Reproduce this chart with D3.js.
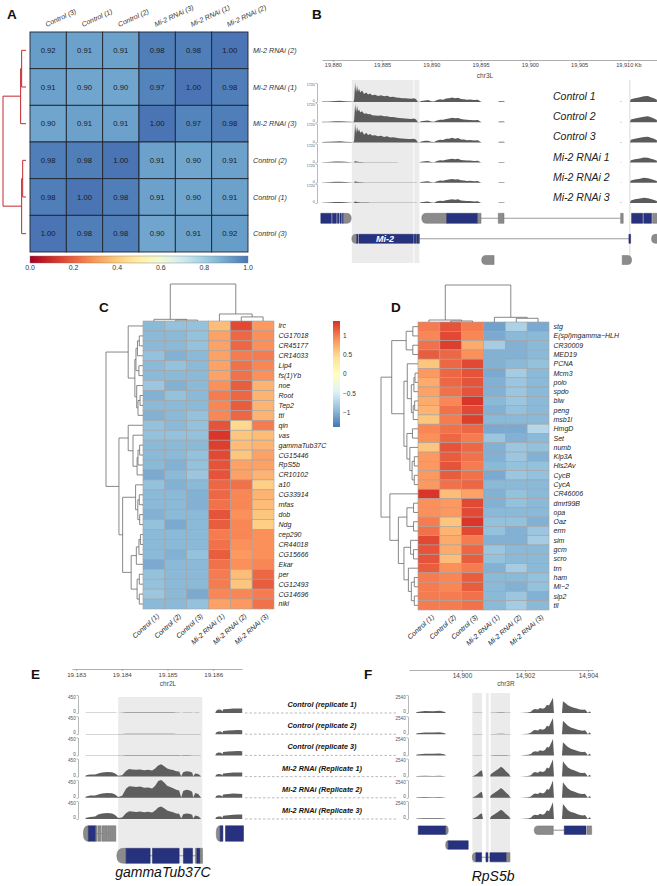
<!DOCTYPE html>
<html><head><meta charset="utf-8">
<script src="https://cdn.jsdelivr.net/npm/d3@7/dist/d3.min.js"></script>
<style>html,body{margin:0;padding:0;background:#fff}svg{display:block}</style>
</head><body>
<svg id="fig" width="657" height="886"></svg>
<script>
// ================= DATA =================
// ---- Panel A: sample correlation matrix ----
const A_cols = ["Control (3)","Control (1)","Control (2)","Mi-2 RNAi (3)","Mi-2 RNAi (1)","Mi-2 RNAi (2)"];
const A_rows = ["Mi-2 RNAi (2)","Mi-2 RNAi (1)","Mi-2 RNAi (3)","Control (2)","Control (1)","Control (3)"];
const A_values = [
  [0.92,0.91,0.91,0.98,0.98,1.00],
  [0.91,0.90,0.90,0.97,1.00,0.98],
  [0.90,0.91,0.91,1.00,0.97,0.98],
  [0.98,0.98,1.00,0.91,0.90,0.91],
  [0.98,1.00,0.98,0.91,0.90,0.91],
  [1.00,0.98,0.98,0.90,0.91,0.92]];
const A_tree = [0.09,[0.021,[0.017,0,1],2],[0.017,[0.013,3,4],5]];
const A_ticks = [0,0.2,0.4,0.6,0.8,1.0];

// ---- Panel B: Mi-2 locus coverage (chr3L, kb) ----
const B_ticks = [19880,19885,19890,19895,19900,19905,19910];
const B_tickLabels = ["19,880","19,885","19,890","19,895","19,900","19,905","19,910 Kb"];
const B_labels = ["Control 1","Control 2","Control 3","Mi-2 RNAi 1","Mi-2 RNAi 2","Mi-2 RNAi 3"];
const B_max = 1720;
const B_pos = [19878.91,19879.52,19880.23,19880.74,19881.25,19881.86,19882.06,19882.16,19882.26,19882.36,19882.46,19882.56,19882.67,19882.77,19882.97,19883.17,19883.38,19883.58,19883.78,19883.99,19884.29,19884.59,19884.90,19885.20,19885.51,19885.81,19886.11,19886.42,19886.72,19887.03,19887.33,19887.64,19887.94,19888.25,19888.45,19888.60,19888.75,19888.96,19889.36,19889.67,19889.97,19890.27,19890.58,19890.88,19891.19,19891.49,19891.79,19892.10,19892.40,19892.71,19893.01,19893.31,19893.62,19893.92,19894.33,19894.73,19894.99,19895.14,19896.76,19896.87,19897.37,19897.47,19909.14,19909.24,19909.34,19910.15,19910.25,19910.66,19911.16,19911.57,19911.98,19912.28,19912.59,19912.89];
const B_ctrl1 = [34,52,86,103,69,34,0,172,1720,860,1460,950,1200,860,1030,720,860,690,770,600,650,550,620,520,570,460,480,410,380,340,340,310,290,340,260,34,0,86,140,170,70,34,170,240,210,310,340,410,340,380,280,260,210,220,170,210,34,0,0,70,70,0,0,50,0,0,260,340,430,520,550,430,340,210];
const B_ctrl2 = [30,48,80,95,60,30,0,150,1650,900,1500,1000,1150,900,980,760,820,720,740,640,600,580,600,540,540,480,470,430,390,360,330,320,300,330,250,30,0,80,130,160,60,30,160,230,220,300,330,400,350,370,290,250,220,210,180,200,30,0,0,60,60,0,0,40,0,0,250,330,420,500,540,440,330,200];
const B_ctrl3 = [30,50,85,100,65,30,0,160,1700,820,1420,980,1180,880,1000,700,880,660,760,620,640,560,600,500,560,450,470,420,370,350,320,300,300,320,240,30,0,90,140,160,70,30,170,250,210,320,340,420,330,390,270,260,200,220,170,200,30,0,0,60,60,0,0,40,0,0,240,320,420,480,520,420,330,200];
const B_rnai1 = [30,55,90,100,70,30,0,40,140,110,90,70,60,50,45,40,40,35,35,30,30,30,30,25,25,25,25,25,20,20,20,20,20,20,20,10,0,70,120,140,55,30,150,210,180,260,300,350,300,340,240,220,180,190,140,170,30,0,0,55,55,0,0,40,0,0,210,300,380,470,430,350,270,170];
const B_rnai2 = [28,50,85,95,65,28,0,35,130,100,85,65,55,45,40,38,36,32,30,28,28,28,26,24,24,22,22,22,20,20,18,18,18,18,18,10,0,65,115,130,50,28,145,200,175,250,290,340,290,330,230,210,170,180,130,160,28,0,0,50,50,0,0,35,0,0,200,290,370,450,420,340,260,160];
const B_rnai3 = [30,52,88,98,66,30,0,38,135,105,88,68,58,48,42,40,38,34,32,30,30,28,28,25,25,24,24,22,20,20,20,18,18,18,18,10,0,68,118,135,52,30,148,205,178,255,295,345,295,335,235,215,175,185,135,165,30,0,0,52,52,0,0,38,0,0,230,330,400,480,440,360,280,180];
const B_highlights = [[19881.93,19888.17],[19888.27,19888.78]];
const B_marker = 19910.15;
// gene models: [row, kind, start, end, rounded side]
const B_genes = [
  [0,"cds",19878.78,19879.85],[0,"cds",19879.95,19880.36],[0,"cds",19880.46,19880.62],[0,"cds",19880.72,19880.86],[0,"cds",19880.96,19881.08],[0,"utr",19881.08,19881.86,"r"],
  [0,"line",19895.04,19909.21],
  [0,"utr",19889.03,19891.56,"l"],[0,"cds",19891.56,19894.71],[0,"utr",19894.71,19895.04],[0,"utr",19896.79,19897.37],[0,"utr",19909.21,19909.47],
  [0,"cds",19910.32,19911.45],[0,"cds",19911.55,19912.35],[0,"utr",19912.45,19912.89],
  [1,"line",19888.78,19910.15],
  [1,"utr",19881.93,19882.43,"l"],[1,"cds",19882.43,19882.55],[1,"cds",19882.65,19888.17],[1,"cds",19888.25,19888.43],[1,"cds",19888.50,19888.66],[1,"cds",19888.70,19888.78],
  [1,"cds",19910.05,19910.22],[1,"utr",19912.35,19912.89,"l"],
  [2,"utr",19895.11,19896.36,"l"],[2,"utr",19909.37,19910.32,"r"]];
const B_geneName = ["Mi-2", 19885.30];

// ---- Panels C / D: row-scaled expression ----
const CD_samples = ["Control (1)","Control (2)","Control (3)","Mi-2 RNAi (1)","Mi-2 RNAi (2)","Mi-2 RNAi (3)"];
const C_genes = ["lrc","CG17018","CR45177","CR14033","Lip4","fs(1)Yb","noe","Root","Tep2","ttl","qin","vas","gammaTub37C","CG15446","RpS5b","CR10102","a10","CG33914","mfas","dob","Ndg","cep290","CR44018","CG15666","Ekar","per","CG12493","CG14696","niki"];
const C_values = [
  [-0.95,-0.90,-0.90,0.65,1.25,0.85],[-0.95,-0.95,-0.90,0.80,1.10,0.90],[-0.95,-0.95,-0.90,0.80,1.10,0.90],
  [-0.90,-1.00,-0.95,0.80,1.00,1.00],[-0.95,-0.90,-0.95,0.80,1.05,0.95],[-0.95,-0.95,-0.95,0.80,1.05,0.90],
  [-0.85,-1.00,-0.95,0.90,1.15,0.70],[-1.00,-0.90,-0.95,1.00,1.10,0.70],[-0.95,-0.95,-0.95,0.95,1.15,0.70],
  [-1.00,-0.95,-0.90,0.95,1.10,0.70],[-0.90,-0.95,-0.90,1.20,0.50,1.00],[-0.90,-0.90,-0.90,1.35,0.60,0.65],
  [-0.95,-0.95,-0.95,1.30,0.65,0.70],[-0.95,-0.95,-0.90,1.25,0.60,0.80],[-0.95,-1.00,-0.90,1.20,0.80,0.80],
  [-1.05,-0.95,-0.85,1.20,0.80,0.70],[-0.90,-1.00,-0.95,1.10,1.05,0.55],[-0.95,-0.95,-1.00,1.10,0.95,0.70],
  [-0.95,-0.95,-1.00,1.05,0.95,0.65],[-1.00,-0.95,-0.95,1.20,0.90,0.60],[-0.90,-1.05,-0.95,1.15,0.95,0.55],
  [-0.95,-0.95,-0.95,1.00,0.95,0.90],[-0.95,-0.95,-0.95,1.05,0.90,0.90],[-0.95,-1.00,-0.90,1.15,0.85,0.90],
  [-1.05,-0.95,-0.95,1.05,0.90,0.95],[-0.90,-0.95,-0.95,1.00,0.65,1.10],[-0.90,-0.95,-0.95,1.00,0.60,1.15],
  [-0.85,-0.95,-1.05,0.95,0.95,1.00],[-0.95,-0.95,-0.90,0.80,0.85,1.05]];
const C_rowTree = [10,
  [4.0,0,[2.2,[1.9,[1.5,[1.0,1,2],3],[1.1,4,5]],[1.7,6,[1.35,[0.8,7,8],9]]]],
  [6.5,[4.0,10,[2.7,11,[1.6,[1.35,[0.9,12,13],14],15]]],
       [5.5,[2.0,16,[1.4,[1.0,17,18],[0.9,19,20]]],
            [3.2,[1.8,[1.1,[0.7,21,22],23],24],[1.6,[1.0,25,26],[1.0,27,28]]]]]];
const C_colTree = [10,[0.45,0,[0.25,1,2]],[1.9,3,[1.1,4,5]]];

const D_genes = ["stg","E(spl)mgamma\u2212HLH","CR30009","MED19","PCNA","Mcm3","polo","spdo","blw","peng","msb1l","HmgD","Set","numb","Klp3A","His2Av","CycB","CycA","CR46006","dmrt99B","opa","Oaz","erm","sim","gcm","scro","trn","ham","Mi\u22122","slp2","tll"];
const D_values = [
  [1.00,1.20,1.00,-1.10,-0.75,-1.05],[0.95,1.25,0.95,-1.05,-0.95,-0.95],[1.05,1.30,0.75,-0.80,-1.00,-0.95],
  [1.15,1.10,0.90,-1.00,-1.00,-0.95],[0.60,1.10,1.25,-1.00,-0.95,-0.90],[0.85,1.10,1.20,-1.05,-0.80,-0.95],
  [0.75,1.10,1.20,-1.00,-0.85,-0.95],[0.80,1.05,1.20,-1.00,-0.85,-0.95],[0.75,0.95,1.35,-0.95,-0.85,-0.95],
  [0.70,1.05,1.25,-1.00,-0.90,-0.95],[0.60,1.00,1.30,-0.95,-0.95,-0.95],[0.95,1.05,1.10,-1.05,-1.05,-0.70],
  [0.90,1.10,1.00,-0.85,-1.00,-0.95],[0.60,1.20,1.10,-1.00,-0.85,-0.90],[0.85,1.15,1.05,-1.00,-0.85,-1.00],
  [0.85,1.20,1.00,-0.95,-0.90,-0.90],[0.85,1.15,1.05,-1.05,-0.85,-0.90],[0.85,1.05,1.10,-0.95,-0.95,-0.95],
  [1.35,0.65,0.80,-1.00,-0.90,-0.95],[0.90,0.85,1.25,-1.00,-0.90,-0.95],[0.90,0.85,1.25,-0.95,-0.95,-0.95],
  [1.00,0.60,1.35,-0.90,-0.90,-1.00],[1.05,0.70,1.25,-0.90,-1.00,-0.85],[1.25,0.75,1.00,-1.00,-1.00,-0.80],
  [1.20,0.75,1.10,-0.85,-0.95,-0.95],[1.20,0.65,1.15,-0.90,-0.95,-0.95],[1.15,0.90,1.00,-1.00,-0.80,-0.95],
  [1.00,0.95,1.15,-0.95,-0.95,-0.90],[1.00,0.95,1.15,-0.95,-1.00,-0.90],[1.00,1.00,1.05,-0.95,-0.85,-1.00],
  [1.00,1.00,1.05,-0.95,-0.80,-0.95]];
const D_rowTree = [10,
  [7.1,[3.2,[1.4,0,1],[1.4,2,3]],
       [3.8,[2.9,4,[1.8,[1.1,[0.8,5,6],7],[1.3,[0.9,8,9],10]]],
            [3.0,[1.5,11,12],[2.2,13,[1.6,[1.0,14,15],[1.0,16,17]]]]]],
  [7.6,18,[5.3,[3.0,[1.2,19,20],[1.2,21,22]],
              [3.8,[2.0,23,[1.2,24,25]],[2.6,26,[1.8,[1.0,27,28],[1.0,29,30]]]]]]];
const D_colTree = [10,[0.54,0,[0.27,1,2]],[1.27,3,[1.0,4,5]]];
const HM_palette = ["#4575B4","#91BFDB","#E0F3F8","#FFFFBF","#FEE090","#FC8D59","#D73027"];
const HM_limit = 1.373;
const HM_ticks = [1,0.5,0,-0.5,-1];

// ---- Panels E / F: coverage tracks ----
const EF_labels = ["Control (replicate 1)","Control (replicate 2)","Control (replicate 3)","Mi-2 RNAi (Replicate 1)","Mi-2 RNAi (Replicate 2)","Mi-2 RNAi (Replicate 3)"];
const E_ticks = [19183,19184,19185,19186];
const E_max = 450;
const E_pos = [19183.197,19183.219,19183.307,19183.416,19183.482,19183.569,19183.679,19183.788,19183.854,19183.920,19184.007,19184.095,19184.161,19184.226,19184.314,19184.401,19184.489,19184.577,19184.664,19184.730,19184.796,19184.861,19184.927,19184.993,19185.058,19185.124,19185.190,19185.255,19185.299,19185.343,19185.409,19185.474,19185.540,19185.562,19185.606,19185.671,19185.715,19185.737,19186.044,19186.066,19186.109,19186.175,19186.197,19186.219,19186.328,19186.438,19186.547,19186.635];
const E_ctrl1 = [0,4,4,4,4,5,5,5,4,2,4,10,12,12,12,12,10,12,10,12,14,14,12,10,10,10,8,8,2,8,8,8,6,2,5,4,2,0,0,55,85,80,35,95,100,110,115,110];
const E_ctrl2 = [0,3,4,4,4,4,5,4,4,2,3,9,11,11,11,11,9,11,9,11,13,13,11,9,9,9,7,7,2,7,7,7,5,2,4,4,2,0,0,45,70,65,30,80,90,100,105,100];
const E_ctrl3 = [0,3,4,4,4,4,4,4,3,2,3,8,10,10,10,10,9,10,9,10,12,12,10,9,8,8,7,7,2,7,7,7,5,2,4,3,2,0,0,45,70,65,30,85,95,105,110,105];
const E_rnai1 = [0,35,55,55,80,100,115,110,80,20,35,145,190,180,170,180,160,170,150,200,280,310,260,200,180,165,135,125,10,110,135,125,100,10,80,65,25,0,0,45,65,60,25,75,90,100,105,100];
const E_rnai2 = [0,35,60,60,85,110,120,115,85,20,50,230,290,280,270,280,250,260,230,300,420,445,380,300,270,240,200,180,10,170,200,190,150,10,120,95,35,0,0,45,65,60,25,80,95,105,100,95];
const E_rnai3 = [0,30,50,60,110,140,150,140,100,25,40,150,195,185,175,190,170,180,160,210,290,315,270,210,185,170,140,130,10,120,140,130,105,10,85,70,25,0,0,45,65,60,25,80,95,105,115,110];
const E_highlights = [[19183.92,19185.76]];
const E_genes = [
  [0,"line",19183.16,19183.87],
  [0,"utr",19183.16,19183.269,"l"],[0,"cds",19183.269,19183.431],[0,"utr",19183.431,19183.453],[0,"utr",19183.475,19183.541],[0,"utr",19183.563,19183.680],[0,"utr",19183.690,19183.869],
  [0,"utr",19186.066,19186.153,"l"],[0,"cds",19186.153,19186.212],[0,"cds",19186.269,19186.663],
  [1,"line",19183.891,19185.766],
  [1,"utr",19183.891,19184.095,"l"],[1,"cds",19184.095,19184.620],[1,"cds",19184.671,19185.255],[1,"cds",19185.349,19185.547],[1,"utr",19185.612,19185.643],[1,"cds",19185.643,19185.715],[1,"utr",19185.715,19185.766]];
const E_geneName = ["gammaTub37C", 19184.90];

const F_ticks = [14900,14902,14904];
const F_max = 2540;
const F_pos = [14898.540,14898.571,14898.825,14899.079,14899.302,14899.460,14899.492,14900.317,14900.381,14900.476,14900.571,14900.635,14900.667,14900.889,14900.921,14901.048,14901.175,14901.238,14901.302,14901.397,14901.492,14901.524,14901.556,14901.841,14902.095,14902.190,14902.254,14902.317,14902.413,14902.476,14902.571,14902.635,14902.698,14902.762,14902.825,14902.889,14902.921,14903.175,14903.206,14903.270,14903.365,14903.460,14903.556,14903.651,14903.746,14903.841,14903.905,14903.968,14904.000,14904.032,14904.063,14904.095];
const F_ctrl1 = [0,150,280,260,300,150,0,0,20,30,30,30,0,0,30,50,60,70,60,50,30,20,0,0,70,180,450,580,500,700,600,740,1150,1050,1600,2160,0,0,1650,1450,1100,870,750,630,500,450,500,180,0,180,220,0];
const F_ctrl2 = [0,130,240,230,260,130,0,0,20,25,25,25,0,0,25,45,55,60,55,45,25,20,0,0,75,190,470,600,520,720,620,760,1200,1100,1680,2300,0,0,1900,1600,1200,950,820,680,540,490,540,190,0,190,230,0];
const F_ctrl3 = [0,130,240,230,260,130,0,0,20,25,25,25,0,0,25,45,55,60,55,45,25,20,0,0,75,190,470,600,520,720,620,760,1200,1100,1680,2300,0,0,1850,1580,1180,930,800,670,530,480,530,190,0,190,230,0];
const F_rnai1 = [0,80,110,90,110,60,0,0,130,380,760,900,0,0,380,760,1150,1400,1200,760,380,130,0,0,80,200,500,640,560,760,640,800,1270,1150,1780,2400,0,0,2160,1780,1270,1020,890,710,560,510,560,200,0,200,250,0];
const F_rnai2 = [0,70,100,85,100,55,0,0,120,360,720,850,0,0,360,740,1120,1380,1180,740,360,120,0,0,80,190,480,620,540,740,620,780,1240,1120,1750,2450,0,0,2200,1800,1300,1040,900,720,570,520,570,200,0,190,240,0];
const F_rnai3 = [0,75,105,90,105,55,0,0,110,330,680,820,0,0,340,700,1080,1320,1120,700,340,110,0,0,75,190,480,610,530,730,610,760,1220,1100,1700,2380,0,0,2100,1750,1250,1000,870,700,550,500,550,190,0,190,240,0];
const F_highlights = [[14900.33,14900.64],[14900.76,14900.85],[14900.91,14901.53]];
const F_genes = [
  [0,"cds",14898.613,14899.492],[0,"utr",14899.492,14899.565,"r"],
  [0,"line",14902.898,14903.248],
  [0,"utr",14902.295,14902.898,"l"],[0,"cds",14903.248,14903.937],[0,"utr",14903.968,14904.117],
  [1,"utr",14899.483,14899.565,"l"],[1,"cds",14899.565,14900.200],
  [2,"line",14900.330,14901.524],
  [2,"utr",14900.330,14900.444,"l"],[2,"cds",14900.444,14900.625],[2,"cds",14900.762,14900.825],[2,"cds",14900.889,14901.419],[2,"utr",14901.419,14901.524]];
const F_geneName = ["RpS5b", 14900.99];

// ================= DRAWING =================
const FONT = '"Liberation Sans", Arial, Helvetica, sans-serif';
const svg = d3.select("#fig").style("font-family", FONT);
svg.append("rect").attr("width",657).attr("height",886).attr("fill","#fff");
const defs = svg.append("defs");

function panelLabel(t,x,y){
  svg.append("text").attr("x",x).attr("y",y).attr("font-size",13.5).attr("font-weight","bold").attr("fill","#111").text(t);
}
function layoutTree(node, leafPos){
  if (typeof node === "number") return {pos: leafPos(node), h: 0, kids: null};
  const a = layoutTree(node[1], leafPos), b = layoutTree(node[2], leafPos);
  return {pos: (a.pos + b.pos) / 2, h: node[0], kids: [a, b]};
}
function drawTree(g, t, hs, horizontal, color, width){
  if (!t.kids) return;
  const a = t.kids[0], b = t.kids[1], H = hs(t.h);
  const d = horizontal
    ? `M${hs(a.h)},${a.pos}H${H}V${b.pos}H${hs(b.h)}`
    : `M${a.pos},${hs(a.h)}V${H}H${b.pos}V${hs(b.h)}`;
  g.append("path").attr("d", d).attr("fill","none").attr("stroke",color).attr("stroke-width",width);
  drawTree(g, a, hs, horizontal, color, width);
  drawTree(g, b, hs, horizontal, color, width);
}
function boxPath(x0,x1,yc,h,side){
  const y0=yc-h/2, y1=yc+h/2, r=Math.min(h*0.45,(x1-x0)*0.9);
  if (side==="l") return `M${x0+r},${y0}H${x1}V${y1}H${x0+r}Q${x0},${y1} ${x0},${yc}Q${x0},${y0} ${x0+r},${y0}Z`;
  if (side==="r") return `M${x0},${y0}H${x1-r}Q${x1},${y0} ${x1},${yc}Q${x1},${y1} ${x1-r},${y1}H${x0}Z`;
  return `M${x0},${y0}H${x1}V${y1}H${x0}Z`;
}
function drawGenes(g, x, genes, rowY, rowH){
  genes.filter(d=>d[1]==="line").forEach(d=>{
    g.append("line").attr("x1",x(d[2])).attr("x2",x(d[3])).attr("y1",rowY[d[0]]).attr("y2",rowY[d[0]])
      .attr("stroke","#9b9b9b").attr("stroke-width",1.1);
  });
  genes.filter(d=>d[1]!=="line").forEach(d=>{
    const cds = d[1]==="cds";
    g.append("path").attr("d", boxPath(x(d[2]),x(d[3]),rowY[d[0]],rowH[d[0]],d[4]))
      .attr("fill", cds ? "#27327f" : "#8b8b8b").attr("stroke", cds ? "#1c2562" : "#6f6f6f").attr("stroke-width",0.5);
  });
}
function drawTrack(g, x, pos, vals, base, h, ymax, fill){
  const y = d3.scaleLinear().domain([0,ymax]).range([base, base-h]);
  const area = d3.area().x((d,i)=>x(pos[i])).y0(base).y1(d=>y(d));
  g.append("path").datum(vals).attr("d",area).attr("fill",fill);
  return y;
}
function drawYAxis(g, y, ax, ymax, fs){
  const a = g.append("g").attr("transform",`translate(${ax},0)`)
    .call(d3.axisLeft(y).tickValues([0,ymax]).tickFormat(d3.format("d")).tickSize(1.5).tickSizeOuter(0).tickPadding(0.8));
  a.select(".domain").attr("stroke","#888").attr("stroke-width",0.6);
  a.selectAll(".tick line").attr("stroke","#888").attr("stroke-width",0.6);
  a.selectAll("text").attr("font-size",fs).attr("fill","#555").attr("font-family",FONT)
    .attr("dy", d => d === 0 ? "-0.08em" : "0.72em");
}
function styleAxis(a, fs){
  a.select(".domain").attr("stroke","#999").attr("stroke-width",0.8);
  a.selectAll(".tick line").attr("stroke","#999").attr("stroke-width",0.7);
  a.selectAll("text").attr("font-size",fs).attr("fill","#444").attr("font-family",FONT);
}

// ---------------- Panel A ----------------
panelLabel("A", 7, 18.5);
(function(){
  const g = svg.append("g");
  const X0=30, X1=248, Y0=32, Y1=252;
  const xs = d3.scaleBand().domain(d3.range(A_cols.length)).range([X0,X1]);
  const ys = d3.scaleBand().domain(d3.range(A_rows.length)).range([Y0,Y1]);
  const col = v => d3.interpolateRdYlBu(v*0.9);
  A_values.forEach((row,i)=>row.forEach((v,j)=>{
    g.append("rect").attr("x",xs(j)).attr("y",ys(i)).attr("width",xs.bandwidth()).attr("height",ys.bandwidth())
      .attr("fill",col(v)).attr("stroke","#1f2530").attr("stroke-width",0.9);
    g.append("text").attr("x",xs(j)+xs.bandwidth()/2).attr("y",ys(i)+ys.bandwidth()/2).attr("dy","0.35em")
      .attr("text-anchor","middle").attr("font-size",7.7).attr("fill","#1a1a1a").text(v.toFixed(2));
  }));
  A_cols.forEach((c,j)=>{
    const cx = xs(j)+xs.bandwidth()/2-1.5;
    g.append("text").attr("transform",`translate(${cx},27) rotate(-25)`).attr("font-size",7)
      .attr("font-style","italic").attr("fill","#333").text(c);
  });
  A_rows.forEach((r,i)=>{
    g.append("text").attr("x",X1+5).attr("y",ys(i)+ys.bandwidth()/2).attr("dy","0.35em").attr("font-size",7.2)
      .attr("font-style","italic").attr("fill","#333").text(r);
  });
  const t = layoutTree(A_tree, i=>ys(i)+ys.bandwidth()/2);
  drawTree(g, t, d3.scaleLinear().domain([0,0.09]).range([26,3]), true, "#c3282f", 1);
  // colour bar
  const grad = defs.append("linearGradient").attr("id","gA");
  d3.range(0,1.0001,0.05).forEach(s=>grad.append("stop").attr("offset",s).attr("stop-color",col(s)));
  const cb = d3.scaleLinear().domain([0,1]).range([X0,X1]);
  g.append("rect").attr("x",X0).attr("y",256).attr("width",X1-X0).attr("height",7).attr("fill","url(#gA)")
    .attr("stroke","#777").attr("stroke-width",0.4);
  A_ticks.forEach(v=>g.append("text").attr("x",cb(v)).attr("y",269.5).attr("text-anchor","middle")
    .attr("font-size",7).attr("fill","#333").text(v.toFixed(1)));
})();

// ---------------- Panel B ----------------
panelLabel("B", 312, 18.5);
(function(){
  const g = svg.append("g");
  const x = d3.scaleLinear().domain([19878.9,19912.9]).range([322,657]);
  const TOP=80, BOT=263;
  B_highlights.forEach(h=>g.append("rect").attr("x",x(h[0])).attr("y",TOP).attr("width",x(h[1])-x(h[0]))
    .attr("height",BOT-TOP).attr("fill","#ebebeb"));
  g.append("line").attr("x1",x(B_marker)).attr("x2",x(B_marker)).attr("y1",TOP).attr("y2",BOT)
    .attr("stroke","#dadada").attr("stroke-width",1);
  const ax = g.append("g").attr("transform","translate(0,60)")
    .call(d3.axisBottom(x).tickValues(B_ticks).tickFormat((d,i)=>B_tickLabels[i]).tickSize(2).tickSizeOuter(0).tickPadding(1.5));
  styleAxis(ax, 5.6);
  g.append("text").attr("x",485).attr("y",77.5).attr("text-anchor","middle").attr("font-size",6.5).attr("fill","#444").text("chr3L");
  const tracks = [B_ctrl1,B_ctrl2,B_ctrl3,B_rnai1,B_rnai2,B_rnai3];
  tracks.forEach((vals,i)=>{
    const base = 102 + i*20.2;
    const y = drawTrack(g, x, B_pos, vals, base, 19, B_max, "#5b5b5b");
    drawYAxis(g, y, 317, B_max, 3.6);
    g.append("text").attr("x",553).attr("y",base-2).attr("font-size",10.5).attr("font-style","italic")
      .attr("fill","#222").text(B_labels[i]);
  });
  const rowY=[218.3,238.8,260], rowH=[10,9,9];
  drawGenes(g, x, B_genes, rowY, rowH);
  g.append("text").attr("x",x(B_geneName[1])).attr("y",rowY[1]).attr("dy","0.35em").attr("text-anchor","middle")
    .attr("font-size",9).attr("font-weight","bold").attr("font-style","italic").attr("fill","#fff").text(B_geneName[0]);
})();

// ---------------- Panels C / D ----------------
const hmColor = d3.scaleLinear().domain(d3.range(7).map(i=>-HM_limit + i*HM_limit/3)).range(HM_palette);
function heatmap(genes, values, X0, X1, Y0, Y1, rowTree, colTree){
  const g = svg.append("g");
  const xs = d3.scaleBand().domain(d3.range(6)).range([X0,X1]);
  const ys = d3.scaleBand().domain(d3.range(genes.length)).range([Y0,Y1]);
  values.forEach((row,i)=>row.forEach((v,j)=>{
    g.append("rect").attr("x",xs(j)).attr("y",ys(i)).attr("width",xs.bandwidth()).attr("height",ys.bandwidth())
      .attr("fill",hmColor(v)).attr("stroke","#a3a3a3").attr("stroke-width",0.6);
  }));
  genes.forEach((n,i)=>g.append("text").attr("x",X1+4.5).attr("y",ys(i)+ys.bandwidth()/2).attr("dy","0.35em")
    .attr("font-size",7).attr("font-style","italic").attr("fill","#222").text(n));
  CD_samples.forEach((s,j)=>{
    const cx = xs(j)+xs.bandwidth()/2+2.5;
    g.append("text").attr("transform",`translate(${cx},${Y1+4}) rotate(-42)`).attr("text-anchor","end")
      .attr("dy","0.7em").attr("font-size",7).attr("font-style","italic").attr("fill","#222").text(s);
  });
  const rt = layoutTree(rowTree, i=>ys(i)+ys.bandwidth()/2);
  drawTree(g, rt, d3.scaleLinear().domain([0,10]).range([X0,X0-37]), true, "#6a6a6a", 0.8);
  const ct = layoutTree(colTree, j=>xs(j)+xs.bandwidth()/2);
  drawTree(g, ct, d3.scaleLinear().domain([0,10]).range([Y0,Y0-37]), false, "#6a6a6a", 0.8);
}
panelLabel("C", 99, 312.3);
heatmap(C_genes, C_values, 143, 274, 321, 609, C_rowTree, C_colTree);
panelLabel("D", 391, 312.3);
heatmap(D_genes, D_values, 418, 549, 322, 610, D_rowTree, D_colTree);
(function(){
  const g = svg.append("g");
  const ly = d3.scaleLinear().domain([-HM_limit,HM_limit]).range([427,321]);
  const grad = defs.append("linearGradient").attr("id","gCD").attr("x1",0).attr("y1",1).attr("x2",0).attr("y2",0);
  d3.range(0,1.0001,0.05).forEach(s=>grad.append("stop").attr("offset",s).attr("stop-color",hmColor(-HM_limit+2*HM_limit*s)));
  g.append("rect").attr("x",333).attr("y",321).attr("width",7).attr("height",106).attr("fill","url(#gCD)");
  HM_ticks.forEach(v=>g.append("text").attr("x",343).attr("y",ly(v)).attr("dy","0.35em").attr("font-size",6.5)
    .attr("fill","#333").text(v<0 ? "\u2212"+Math.abs(v) : String(v)));
})();

// ---------------- Panels E / F ----------------
const EF_base = d3.range(6).map(i=>713 + i*21.2);
panelLabel("E", 31, 679.3);
(function(){
  const g = svg.append("g");
  const x = d3.scaleLinear().domain([19182.91,19186.63]).range([72,242]);
  E_highlights.forEach(h=>g.append("rect").attr("x",x(h[0])).attr("y",697).attr("width",x(h[1])-x(h[0]))
    .attr("height",166).attr("fill","#ebebeb"));
  const ax = g.append("g").attr("transform","translate(0,669)")
    .call(d3.axisBottom(x).tickValues(E_ticks).tickFormat(d=>(d/1000).toFixed(3)).tickSize(2).tickSizeOuter(0).tickPadding(1.5));
  styleAxis(ax, 6.2);
  g.append("text").attr("x",168).attr("y",686).attr("text-anchor","middle").attr("font-size",6.5).attr("fill","#444").text("chr2L");
  [E_ctrl1,E_ctrl2,E_ctrl3,E_rnai1,E_rnai2,E_rnai3].forEach((vals,i)=>{
    const y = drawTrack(g, x, E_pos, vals, EF_base[i], 18, E_max, "#5e5e5e");
    drawYAxis(g, y, 78, E_max, 4.6);
  });
  drawGenes(g, x, E_genes, [833.5,855.8], [15.5,15]);
  g.append("text").attr("x",x(E_geneName[1])).attr("y",876.7).attr("text-anchor","middle").attr("font-size",14)
    .attr("font-style","italic").attr("fill","#111").text(E_geneName[0]);
})();
panelLabel("F", 364, 679.3);
(function(){
  const g = svg.append("g");
  const x = d3.scaleLinear().domain([14898.32,14904.16]).range([409,593]);
  F_highlights.forEach(h=>g.append("rect").attr("x",x(h[0])).attr("y",693).attr("width",x(h[1])-x(h[0]))
    .attr("height",170).attr("fill","#ebebeb"));
  const ax = g.append("g").attr("transform","translate(0,670)")
    .call(d3.axisBottom(x).tickValues(F_ticks).tickFormat(d3.format(",")).tickSize(2).tickSizeOuter(0).tickPadding(1.5));
  styleAxis(ax, 6.4);
  g.append("text").attr("x",506).attr("y",686).attr("text-anchor","middle").attr("font-size",6.5).attr("fill","#444").text("chr3R");
  [F_ctrl1,F_ctrl2,F_ctrl3,F_rnai1,F_rnai2,F_rnai3].forEach((vals,i)=>{
    const y = drawTrack(g, x, F_pos, vals, EF_base[i], 18, F_max, "#5e5e5e");
    drawYAxis(g, y, 408, F_max, 4.6);
  });
  drawGenes(g, x, F_genes, [830.2,845,857.2], [8.5,8.5,9]);
  g.append("text").attr("x",x(F_geneName[1])).attr("y",880.7).attr("text-anchor","middle").attr("font-size",14)
    .attr("font-style","italic").attr("fill","#111").text(F_geneName[0]);
})();
// shared replicate labels + dashed guides between E and F
(function(){
  const g = svg.append("g");
  EF_labels.forEach((t,i)=>{
    g.append("line").attr("x1",245).attr("x2",398).attr("y1",EF_base[i]).attr("y2",EF_base[i])
      .attr("stroke","#a8a8a8").attr("stroke-width",0.8).attr("stroke-dasharray","2.5,2");
    g.append("text").attr("x",322).attr("y",EF_base[i]-6).attr("text-anchor","middle").attr("font-size",7.3)
      .attr("font-weight","bold").attr("font-style","italic").attr("fill","#111").text(t);
  });
})();
</script>
</body></html>
